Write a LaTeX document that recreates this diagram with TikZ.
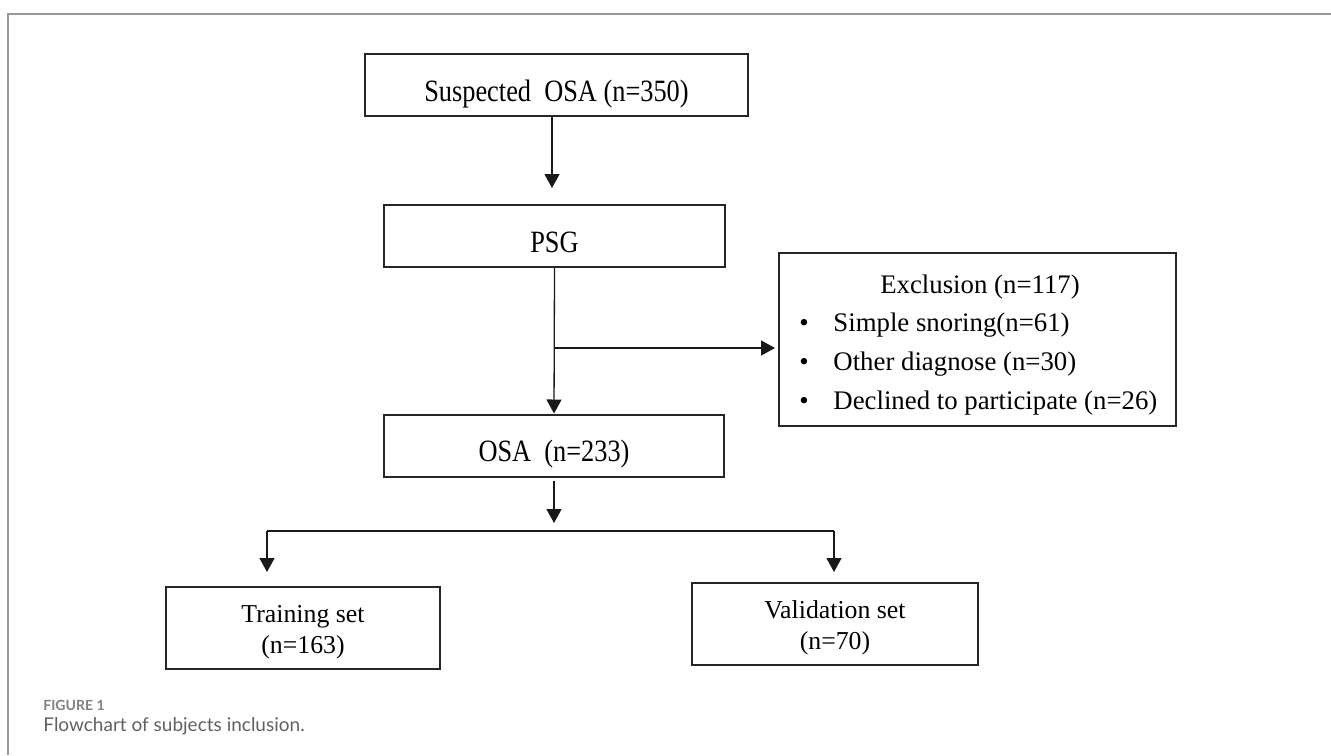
\documentclass[tikz,border=0pt]{standalone}
\usepackage{fontspec}
\setmainfont{Liberation Serif}
\newfontfamily\narrowfont[FakeStretch=0.85]{Liberation Serif}
\newfontfamily\capfont{Lato}
\usetikzlibrary{arrows.meta}

\newcommand{\toplift}{\rule{0pt}{13pt}}

\tikzset{
  box/.style={draw=black!85, line width=1pt, inner sep=0pt},
  topbox/.style={box, minimum height=31pt, text height=16pt, text depth=0pt,
    font=\narrowfont\fontsize{15.5}{18}\selectfont},
  setbox/.style={box, minimum height=41pt, align=center,
    font=\fontsize{12.9}{15.5}\selectfont},
  excltext/.style={anchor=base, inner sep=0pt, font=\fontsize{13.4}{16}\selectfont},
  arr/.style={-{Triangle[length=7pt,width=7.5pt]}, line width=0.65pt, black!90},
}

\begin{document}
\begin{tikzpicture}[x=0.5pt,y=-0.5pt]
  \useasboundingbox (0,0) rectangle (1331,755);
  \draw[black!40, line width=0.6pt] (8,755) -- (8,14) -- (1331,14);

  \node[topbox, minimum width=191.5pt] (sus) at (556.5,85) {Suspected\ \ OSA (n=350)};
  \node[topbox, minimum width=170.5pt] (psg) at (554.5,236) {PSG};
  \node[topbox, minimum width=170pt] (osa) at (554,445.5) {OSA\ \ (n=233)};
  \node[box, minimum width=198.5pt, minimum height=86.5pt] (excl) at (977.5,339.5) {};
  \node[setbox, minimum width=137pt] (train) at (303,628) {\toplift Training set\\(n=163)};
  \node[setbox, minimum width=143pt] (valid) at (835,624) {\toplift Validation set\\(n=70)};

  % exclusion list
  \node[excltext] (exhead) at (980,293) {Exclusion (n=117)};
  \node[excltext] (dot1) at (804,331) {\textbullet};
  \node[excltext, anchor=base west] (ex1) at (833,331) {Simple snoring(n=61)};
  \node[excltext] (dot2) at (804,370) {\textbullet};
  \node[excltext, anchor=base west] (ex2) at (833,370) {Other diagnose (n=30)};
  \node[excltext] (dot3) at (804,409) {\textbullet};
  \node[excltext, anchor=base west] (ex3) at (833,409) {Declined to participate (n=26)};

  \coordinate (branch) at (554,348);
  \coordinate (split) at (554,531);
  \coordinate (splitL) at (267,531);
  \coordinate (splitR) at (834,531);

  \draw[arr, shorten >=8pt] (sus.south -| 552,0) -- (psg.north -| 552,0);
  \draw[arr] (psg.south) -- (osa.north);
  \draw[arr, shorten >=1.5pt] (branch) -- (branch -| excl.west);
  \draw[arr, shorten <=1.5pt, shorten >=4pt] (osa.south) -- (split);
  \draw[line width=0.65pt, black!90] (splitL) -- (splitR);
  \draw[arr, shorten >=7pt] (splitL) -- (splitL |- train.north);
  \draw[arr, shorten >=5pt] (splitR) -- (splitR |- valid.north);

  \node[anchor=base west, inner sep=0pt, text=black!50, font=\capfont\bfseries\fontsize{7}{8}\selectfont] (fig) at (43,710) {FIGURE 1};
  \node[anchor=base west, inner sep=0pt, text=black!62, font=\capfont\fontsize{9.5}{11}\selectfont] (cap) at (43,731) {Flowchart of subjects inclusion.};
\end{tikzpicture}
\end{document}
